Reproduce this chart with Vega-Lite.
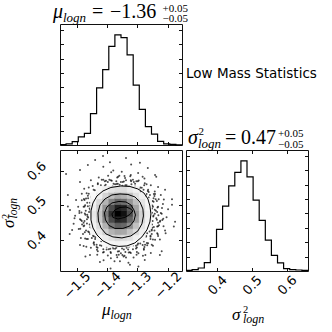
{
"$schema":"https://vega.github.io/schema/vega-lite/v6.json",
"autosize":{"type":"none"},
"padding":{"left":60,"top":24,"right":272,"bottom":308},
"background":"white",
"bounds":"flush",
"spacing":5,
"config":{
 "view":{"stroke":"#111","strokeWidth":1},
 "axis":{"domain":false,"grid":false,"tickColor":"#111","tickWidth":1,"tickSize":-3.5,"labelFont":"DejaVu Sans","labelFontSize":13,"labelColor":"black","labelOverlap":false,"labelFlush":false}
},
"datasets":{
 "htop":[{"mu":-1.556,"n":2},{"mu":-1.5359,"n":8},{"mu":-1.5157,"n":23},{"mu":-1.4956,"n":56},{"mu":-1.4754,"n":81},{"mu":-1.4553,"n":218},{"mu":-1.4351,"n":397},{"mu":-1.415,"n":523},{"mu":-1.3948,"n":684},{"mu":-1.3747,"n":764},{"mu":-1.3545,"n":746},{"mu":-1.3344,"n":626},{"mu":-1.3142,"n":416},{"mu":-1.2941,"n":248},{"mu":-1.2739,"n":128},{"mu":-1.2538,"n":75},{"mu":-1.2336,"n":25},{"mu":-1.2135,"n":8},{"mu":-1.1933,"n":4},{"mu":-1.1732,"n":1},{"mu":-1.153,"n":1}],
 "hright":[{"s":0.311,"n":5},{"s":0.3285,"n":9},{"s":0.3459,"n":21},{"s":0.3634,"n":58},{"s":0.3808,"n":163},{"s":0.3983,"n":289},{"s":0.4157,"n":451},{"s":0.4332,"n":591},{"s":0.4506,"n":685},{"s":0.4681,"n":764},{"s":0.4855,"n":653},{"s":0.503,"n":492},{"s":0.5204,"n":351},{"s":0.5379,"n":215},{"s":0.5553,"n":109},{"s":0.5728,"n":57},{"s":0.5902,"n":17},{"s":0.6077,"n":10},{"s":0.6251,"n":7},{"s":0.6426,"n":4},{"s":0.66,"n":4}],
 "pts":[
{"m":-1.247,"s":0.471},{"m":-1.220,"s":0.476},{"m":-1.235,"s":0.481},{"m":-1.199,"s":0.489},
{"m":-1.243,"s":0.488},{"m":-1.234,"s":0.494},{"m":-1.216,"s":0.504},{"m":-1.186,"s":0.518},
{"m":-1.257,"s":0.502},{"m":-1.236,"s":0.513},{"m":-1.250,"s":0.513},{"m":-1.223,"s":0.530},
{"m":-1.263,"s":0.517},{"m":-1.242,"s":0.533},{"m":-1.259,"s":0.530},{"m":-1.232,"s":0.553},
{"m":-1.270,"s":0.533},{"m":-1.266,"s":0.542},{"m":-1.256,"s":0.558},{"m":-1.238,"s":0.583},
{"m":-1.290,"s":0.539},{"m":-1.278,"s":0.558},{"m":-1.291,"s":0.552},{"m":-1.277,"s":0.578},
{"m":-1.304,"s":0.549},{"m":-1.296,"s":0.572},{"m":-1.308,"s":0.563},{"m":-1.298,"s":0.594},
{"m":-1.320,"s":0.561},{"m":-1.321,"s":0.570},{"m":-1.322,"s":0.588},{"m":-1.321,"s":0.618},
{"m":-1.340,"s":0.558},{"m":-1.341,"s":0.579},{"m":-1.349,"s":0.568},{"m":-1.352,"s":0.597},
{"m":-1.359,"s":0.560},{"m":-1.364,"s":0.583},{"m":-1.370,"s":0.570},{"m":-1.380,"s":0.601},
{"m":-1.379,"s":0.563},{"m":-1.385,"s":0.571},{"m":-1.397,"s":0.586},{"m":-1.413,"s":0.612},
{"m":-1.395,"s":0.552},{"m":-1.408,"s":0.570},{"m":-1.408,"s":0.557},{"m":-1.428,"s":0.581},
{"m":-1.412,"s":0.546},{"m":-1.431,"s":0.564},{"m":-1.427,"s":0.550},{"m":-1.454,"s":0.573},
{"m":-1.431,"s":0.540},{"m":-1.441,"s":0.544},{"m":-1.461,"s":0.552},{"m":-1.490,"s":0.568},
{"m":-1.439,"s":0.524},{"m":-1.461,"s":0.534},{"m":-1.453,"s":0.523},{"m":-1.484,"s":0.534},
{"m":-1.450,"s":0.511},{"m":-1.477,"s":0.519},{"m":-1.466,"s":0.508},{"m":-1.503,"s":0.516},
{"m":-1.464,"s":0.498},{"m":-1.475,"s":0.497},{"m":-1.496,"s":0.496},{"m":-1.530,"s":0.497},
{"m":-1.460,"s":0.481},{"m":-1.485,"s":0.480},{"m":-1.472,"s":0.473},{"m":-1.506,"s":0.470},
{"m":-1.463,"s":0.465},{"m":-1.490,"s":0.460},{"m":-1.475,"s":0.455},{"m":-1.511,"s":0.447},
{"m":-1.467,"s":0.448},{"m":-1.476,"s":0.442},{"m":-1.494,"s":0.432},{"m":-1.524,"s":0.418},
{"m":-1.453,"s":0.434},{"m":-1.474,"s":0.423},{"m":-1.460,"s":0.423},{"m":-1.487,"s":0.406},
{"m":-1.447,"s":0.419},{"m":-1.468,"s":0.403},{"m":-1.451,"s":0.406},{"m":-1.478,"s":0.383},
{"m":-1.440,"s":0.403},{"m":-1.444,"s":0.394},{"m":-1.454,"s":0.378},{"m":-1.472,"s":0.353},
{"m":-1.420,"s":0.397},{"m":-1.432,"s":0.378},{"m":-1.419,"s":0.384},{"m":-1.433,"s":0.358},
{"m":-1.406,"s":0.387},{"m":-1.414,"s":0.364},{"m":-1.402,"s":0.373},{"m":-1.412,"s":0.342},
{"m":-1.390,"s":0.375},{"m":-1.389,"s":0.366},{"m":-1.388,"s":0.348},{"m":-1.389,"s":0.318},
{"m":-1.370,"s":0.378},{"m":-1.369,"s":0.357},{"m":-1.361,"s":0.368},{"m":-1.358,"s":0.339},
{"m":-1.351,"s":0.376},{"m":-1.346,"s":0.353},{"m":-1.340,"s":0.366},{"m":-1.330,"s":0.335},
{"m":-1.331,"s":0.373},{"m":-1.325,"s":0.365},{"m":-1.313,"s":0.350},{"m":-1.297,"s":0.324},
{"m":-1.315,"s":0.384},{"m":-1.302,"s":0.366},{"m":-1.302,"s":0.379},{"m":-1.282,"s":0.355},
{"m":-1.298,"s":0.390},{"m":-1.279,"s":0.372},{"m":-1.283,"s":0.386},{"m":-1.256,"s":0.363},
{"m":-1.279,"s":0.396},{"m":-1.269,"s":0.392},{"m":-1.249,"s":0.384},{"m":-1.220,"s":0.368},
{"m":-1.271,"s":0.412},{"m":-1.249,"s":0.402},{"m":-1.257,"s":0.413},{"m":-1.226,"s":0.402},
{"m":-1.260,"s":0.425},{"m":-1.233,"s":0.417},{"m":-1.244,"s":0.428},{"m":-1.207,"s":0.420},
{"m":-1.246,"s":0.438},{"m":-1.235,"s":0.439},{"m":-1.214,"s":0.440},{"m":-1.180,"s":0.439},
{"m":-1.250,"s":0.455},{"m":-1.225,"s":0.456},{"m":-1.238,"s":0.463},{"m":-1.204,"s":0.466},
{"m":-1.243,"s":0.476},{"m":-1.232,"s":0.496},{"m":-1.230,"s":0.518},{"m":-1.263,"s":0.523},
{"m":-1.265,"s":0.545},{"m":-1.276,"s":0.564},{"m":-1.308,"s":0.555},{"m":-1.322,"s":0.573},
{"m":-1.343,"s":0.585},{"m":-1.365,"s":0.563},{"m":-1.388,"s":0.573},{"m":-1.413,"s":0.574},
{"m":-1.419,"s":0.546},{"m":-1.445,"s":0.545},{"m":-1.468,"s":0.535},{"m":-1.457,"s":0.508},
{"m":-1.478,"s":0.496},{"m":-1.492,"s":0.478},{"m":-1.467,"s":0.460},{"m":-1.478,"s":0.440},
{"m":-1.480,"s":0.418},{"m":-1.447,"s":0.413},{"m":-1.445,"s":0.391},{"m":-1.434,"s":0.372},
{"m":-1.402,"s":0.381},{"m":-1.388,"s":0.363},{"m":-1.367,"s":0.351},{"m":-1.345,"s":0.373},
{"m":-1.322,"s":0.363},{"m":-1.297,"s":0.362},{"m":-1.291,"s":0.390},{"m":-1.265,"s":0.391},
{"m":-1.242,"s":0.401},{"m":-1.253,"s":0.428},{"m":-1.232,"s":0.440},{"m":-1.218,"s":0.458},
{"m":-1.248,"s":0.468},{"m":-1.239,"s":0.485},{"m":-1.251,"s":0.500},{"m":-1.247,"s":0.521},
{"m":-1.273,"s":0.527},{"m":-1.280,"s":0.545},{"m":-1.300,"s":0.549},{"m":-1.312,"s":0.568},
{"m":-1.336,"s":0.558},{"m":-1.355,"s":0.568},{"m":-1.374,"s":0.561},{"m":-1.398,"s":0.568},
{"m":-1.409,"s":0.547},{"m":-1.430,"s":0.545},{"m":-1.439,"s":0.528},{"m":-1.463,"s":0.521},
{"m":-1.456,"s":0.499},{"m":-1.471,"s":0.485},{"m":-1.465,"s":0.468},{"m":-1.478,"s":0.450},
{"m":-1.456,"s":0.437},{"m":-1.457,"s":0.418},{"m":-1.439,"s":0.408},{"m":-1.435,"s":0.387},
{"m":-1.409,"s":0.389},{"m":-1.395,"s":0.374},{"m":-1.374,"s":0.375},{"m":-1.355,"s":0.362},
{"m":-1.336,"s":0.378},{"m":-1.315,"s":0.374},{"m":-1.300,"s":0.387},{"m":-1.275,"s":0.387},
{"m":-1.273,"s":0.409},{"m":-1.253,"s":0.418},{"m":-1.251,"s":0.436},{"m":-1.232,"s":0.450},
{"m":-1.223,"s":0.478},{"m":-1.252,"s":0.491},{"m":-1.247,"s":0.511},{"m":-1.246,"s":0.533},
{"m":-1.280,"s":0.532},{"m":-1.286,"s":0.551},{"m":-1.299,"s":0.570},{"m":-1.328,"s":0.555},
{"m":-1.345,"s":0.569},{"m":-1.367,"s":0.581},{"m":-1.382,"s":0.555},{"m":-1.405,"s":0.560},
{"m":-1.431,"s":0.561},{"m":-1.430,"s":0.532},{"m":-1.453,"s":0.526},{"m":-1.475,"s":0.516},
{"m":-1.458,"s":0.491},{"m":-1.474,"s":0.477},{"m":-1.487,"s":0.458},{"m":-1.458,"s":0.445},
{"m":-1.463,"s":0.425},{"m":-1.464,"s":0.403},{"m":-1.430,"s":0.404},{"m":-1.424,"s":0.385},
{"m":-1.411,"s":0.366},{"m":-1.382,"s":0.381},{"m":-1.365,"s":0.367},{"m":-1.343,"s":0.355},
{"m":-1.328,"s":0.381},{"m":-1.305,"s":0.376},{"m":-1.279,"s":0.375},{"m":-1.280,"s":0.404},
{"m":-1.257,"s":0.410},{"m":-1.235,"s":0.420},{"m":-1.252,"s":0.445},{"m":-1.236,"s":0.459},
{"m":-1.252,"s":0.479},{"m":-1.249,"s":0.496},{"m":-1.240,"s":0.518},{"m":-1.243,"s":0.540},
{"m":-1.284,"s":0.533},{"m":-1.294,"s":0.548},{"m":-1.304,"s":0.570},{"m":-1.324,"s":0.584},
{"m":-1.350,"s":0.557},{"m":-1.369,"s":0.562},{"m":-1.393,"s":0.574},{"m":-1.418,"s":0.574},
{"m":-1.418,"s":0.539},{"m":-1.436,"s":0.533},{"m":-1.464,"s":0.528},{"m":-1.484,"s":0.515},
{"m":-1.456,"s":0.488},{"m":-1.466,"s":0.473},{"m":-1.484,"s":0.455},{"m":-1.489,"s":0.433},
{"m":-1.448,"s":0.428},{"m":-1.444,"s":0.411},{"m":-1.443,"s":0.387},{"m":-1.431,"s":0.368},
{"m":-1.396,"s":0.386},{"m":-1.380,"s":0.376},{"m":-1.362,"s":0.358},{"m":-1.338,"s":0.350},
{"m":-1.325,"s":0.383},{"m":-1.305,"s":0.384},{"m":-1.277,"s":0.380},{"m":-1.253,"s":0.387},
{"m":-1.268,"s":0.420},{"m":-1.253,"s":0.431},{"m":-1.229,"s":0.443},{"m":-1.215,"s":0.462},
{"m":-1.231,"s":0.472},{"m":-1.219,"s":0.493},{"m":-1.213,"s":0.517},{"m":-1.244,"s":0.527},
{"m":-1.263,"s":0.539},{"m":-1.270,"s":0.561},{"m":-1.283,"s":0.583},{"m":-1.315,"s":0.574},
{"m":-1.338,"s":0.573},{"m":-1.360,"s":0.586},{"m":-1.387,"s":0.596},{"m":-1.404,"s":0.571},
{"m":-1.421,"s":0.558},{"m":-1.448,"s":0.556},{"m":-1.476,"s":0.548},{"m":-1.470,"s":0.520},
{"m":-1.473,"s":0.501},{"m":-1.492,"s":0.484},{"m":-1.508,"s":0.463},{"m":-1.483,"s":0.445},
{"m":-1.470,"s":0.428},{"m":-1.473,"s":0.405},{"m":-1.469,"s":0.381},{"m":-1.435,"s":0.380},
{"m":-1.413,"s":0.374},{"m":-1.398,"s":0.356},{"m":-1.376,"s":0.339},{"m":-1.350,"s":0.357},
{"m":-1.329,"s":0.364},{"m":-1.303,"s":0.358},{"m":-1.274,"s":0.357},{"m":-1.268,"s":0.385},
{"m":-1.257,"s":0.403},{"m":-1.232,"s":0.412},{"m":-1.209,"s":0.428},{"m":-1.226,"s":0.453},
{"m":-1.536,"s":0.591},{"m":-1.440,"s":0.631},{"m":-1.414,"s":0.643},{"m":-1.391,"s":0.625},
{"m":-1.338,"s":0.637},{"m":-1.292,"s":0.623},{"m":-1.266,"s":0.608},{"m":-1.242,"s":0.588},
{"m":-1.209,"s":0.545},{"m":-1.186,"s":0.502},{"m":-1.176,"s":0.453},{"m":-1.226,"s":0.357},
{"m":-1.424,"s":0.337},{"m":-1.457,"s":0.357},{"m":-1.325,"s":0.329},{"m":-1.276,"s":0.343},
{"m":-1.523,"s":0.487},{"m":-1.516,"s":0.429},{"m":-1.530,"s":0.530},{"m":-1.490,"s":0.386},
{"m":-1.490,"s":0.602},{"m":-1.464,"s":0.617}
 ],
 "cells":[
{"m":-1.4553,"m2":-1.4351,"s":0.4157,"s2":0.4332,"d":0.12},{"m":-1.4553,"m2":-1.4351,"s":0.4332,"s2":0.4506,"d":0.17},{"m":-1.4553,"m2":-1.4351,"s":0.4506,"s2":0.4681,"d":0.2},{"m":-1.4553,"m2":-1.4351,"s":0.4681,"s2":0.4855,"d":0.23},{"m":-1.4553,"m2":-1.4351,"s":0.4855,"s2":0.503,"d":0.19},{"m":-1.4553,"m2":-1.4351,"s":0.503,"s2":0.5204,"d":0.16},{"m":-1.4553,"m2":-1.4351,"s":0.5204,"s2":0.5379,"d":0.11},
{"m":-1.4351,"m2":-1.415,"s":0.3983,"s2":0.4157,"d":0.13},{"m":-1.4351,"m2":-1.415,"s":0.4157,"s2":0.4332,"d":0.22},{"m":-1.4351,"m2":-1.415,"s":0.4332,"s2":0.4506,"d":0.29},{"m":-1.4351,"m2":-1.415,"s":0.4506,"s2":0.4681,"d":0.39},{"m":-1.4351,"m2":-1.415,"s":0.4681,"s2":0.4855,"d":0.4},{"m":-1.4351,"m2":-1.415,"s":0.4855,"s2":0.503,"d":0.37},{"m":-1.4351,"m2":-1.415,"s":0.503,"s2":0.5204,"d":0.31},{"m":-1.4351,"m2":-1.415,"s":0.5204,"s2":0.5379,"d":0.19},{"m":-1.4351,"m2":-1.415,"s":0.5379,"s2":0.5553,"d":0.12},
{"m":-1.415,"m2":-1.3948,"s":0.3808,"s2":0.3983,"d":0.1},{"m":-1.415,"m2":-1.3948,"s":0.3983,"s2":0.4157,"d":0.2},{"m":-1.415,"m2":-1.3948,"s":0.4157,"s2":0.4332,"d":0.35},{"m":-1.415,"m2":-1.3948,"s":0.4332,"s2":0.4506,"d":0.47},{"m":-1.415,"m2":-1.3948,"s":0.4506,"s2":0.4681,"d":0.61},{"m":-1.415,"m2":-1.3948,"s":0.4681,"s2":0.4855,"d":0.66},{"m":-1.415,"m2":-1.3948,"s":0.4855,"s2":0.503,"d":0.58},{"m":-1.415,"m2":-1.3948,"s":0.503,"s2":0.5204,"d":0.46},{"m":-1.415,"m2":-1.3948,"s":0.5204,"s2":0.5379,"d":0.33},{"m":-1.415,"m2":-1.3948,"s":0.5379,"s2":0.5553,"d":0.18},
{"m":-1.3948,"m2":-1.3747,"s":0.3808,"s2":0.3983,"d":0.14},{"m":-1.3948,"m2":-1.3747,"s":0.3983,"s2":0.4157,"d":0.26},{"m":-1.3948,"m2":-1.3747,"s":0.4157,"s2":0.4332,"d":0.46},{"m":-1.3948,"m2":-1.3747,"s":0.4332,"s2":0.4506,"d":0.66},{"m":-1.3948,"m2":-1.3747,"s":0.4506,"s2":0.4681,"d":0.8},{"m":-1.3948,"m2":-1.3747,"s":0.4681,"s2":0.4855,"d":0.88},{"m":-1.3948,"m2":-1.3747,"s":0.4855,"s2":0.503,"d":0.8},{"m":-1.3948,"m2":-1.3747,"s":0.503,"s2":0.5204,"d":0.62},{"m":-1.3948,"m2":-1.3747,"s":0.5204,"s2":0.5379,"d":0.42},{"m":-1.3948,"m2":-1.3747,"s":0.5379,"s2":0.5553,"d":0.25},
{"m":-1.3747,"m2":-1.3545,"s":0.3808,"s2":0.3983,"d":0.16},{"m":-1.3747,"m2":-1.3545,"s":0.3983,"s2":0.4157,"d":0.32},{"m":-1.3747,"m2":-1.3545,"s":0.4157,"s2":0.4332,"d":0.51},{"m":-1.3747,"m2":-1.3545,"s":0.4332,"s2":0.4506,"d":0.73},{"m":-1.3747,"m2":-1.3545,"s":0.4506,"s2":0.4681,"d":0.91},{"m":-1.3747,"m2":-1.3545,"s":0.4681,"s2":0.4855,"d":1.0},{"m":-1.3747,"m2":-1.3545,"s":0.4855,"s2":0.503,"d":0.93},{"m":-1.3747,"m2":-1.3545,"s":0.503,"s2":0.5204,"d":0.72},{"m":-1.3747,"m2":-1.3545,"s":0.5204,"s2":0.5379,"d":0.5},{"m":-1.3747,"m2":-1.3545,"s":0.5379,"s2":0.5553,"d":0.28},
{"m":-1.3545,"m2":-1.3344,"s":0.3808,"s2":0.3983,"d":0.15},{"m":-1.3545,"m2":-1.3344,"s":0.3983,"s2":0.4157,"d":0.29},{"m":-1.3545,"m2":-1.3344,"s":0.4157,"s2":0.4332,"d":0.5},{"m":-1.3545,"m2":-1.3344,"s":0.4332,"s2":0.4506,"d":0.71},{"m":-1.3545,"m2":-1.3344,"s":0.4506,"s2":0.4681,"d":0.89},{"m":-1.3545,"m2":-1.3344,"s":0.4681,"s2":0.4855,"d":0.97},{"m":-1.3545,"m2":-1.3344,"s":0.4855,"s2":0.503,"d":0.9},{"m":-1.3545,"m2":-1.3344,"s":0.503,"s2":0.5204,"d":0.69},{"m":-1.3545,"m2":-1.3344,"s":0.5204,"s2":0.5379,"d":0.47},{"m":-1.3545,"m2":-1.3344,"s":0.5379,"s2":0.5553,"d":0.29},
{"m":-1.3344,"m2":-1.3142,"s":0.3808,"s2":0.3983,"d":0.12},{"m":-1.3344,"m2":-1.3142,"s":0.3983,"s2":0.4157,"d":0.26},{"m":-1.3344,"m2":-1.3142,"s":0.4157,"s2":0.4332,"d":0.4},{"m":-1.3344,"m2":-1.3142,"s":0.4332,"s2":0.4506,"d":0.6},{"m":-1.3344,"m2":-1.3142,"s":0.4506,"s2":0.4681,"d":0.73},{"m":-1.3344,"m2":-1.3142,"s":0.4681,"s2":0.4855,"d":0.8},{"m":-1.3344,"m2":-1.3142,"s":0.4855,"s2":0.503,"d":0.76},{"m":-1.3344,"m2":-1.3142,"s":0.503,"s2":0.5204,"d":0.57},{"m":-1.3344,"m2":-1.3142,"s":0.5204,"s2":0.5379,"d":0.41},{"m":-1.3344,"m2":-1.3142,"s":0.5379,"s2":0.5553,"d":0.22},
{"m":-1.3142,"m2":-1.2941,"s":0.3983,"s2":0.4157,"d":0.17},{"m":-1.3142,"m2":-1.2941,"s":0.4157,"s2":0.4332,"d":0.3},{"m":-1.3142,"m2":-1.2941,"s":0.4332,"s2":0.4506,"d":0.41},{"m":-1.3142,"m2":-1.2941,"s":0.4506,"s2":0.4681,"d":0.53},{"m":-1.3142,"m2":-1.2941,"s":0.4681,"s2":0.4855,"d":0.57},{"m":-1.3142,"m2":-1.2941,"s":0.4855,"s2":0.503,"d":0.52},{"m":-1.3142,"m2":-1.2941,"s":0.503,"s2":0.5204,"d":0.42},{"m":-1.3142,"m2":-1.2941,"s":0.5204,"s2":0.5379,"d":0.27},{"m":-1.3142,"m2":-1.2941,"s":0.5379,"s2":0.5553,"d":0.16},
{"m":-1.2941,"m2":-1.2739,"s":0.3983,"s2":0.4157,"d":0.11},{"m":-1.2941,"m2":-1.2739,"s":0.4157,"s2":0.4332,"d":0.18},{"m":-1.2941,"m2":-1.2739,"s":0.4332,"s2":0.4506,"d":0.24},{"m":-1.2941,"m2":-1.2739,"s":0.4506,"s2":0.4681,"d":0.32},{"m":-1.2941,"m2":-1.2739,"s":0.4681,"s2":0.4855,"d":0.34},{"m":-1.2941,"m2":-1.2739,"s":0.4855,"s2":0.503,"d":0.3},{"m":-1.2941,"m2":-1.2739,"s":0.503,"s2":0.5204,"d":0.25},{"m":-1.2941,"m2":-1.2739,"s":0.5204,"s2":0.5379,"d":0.17},
{"m":-1.2739,"m2":-1.2538,"s":0.4332,"s2":0.4506,"d":0.13},{"m":-1.2739,"m2":-1.2538,"s":0.4506,"s2":0.4681,"d":0.16},{"m":-1.2739,"m2":-1.2538,"s":0.4681,"s2":0.4855,"d":0.18},{"m":-1.2739,"m2":-1.2538,"s":0.4855,"s2":0.503,"d":0.15},{"m":-1.2739,"m2":-1.2538,"s":0.503,"s2":0.5204,"d":0.13}
 ],
 "cont":[
{"lvl":1,"o":0,"m":-1.3547,"s":0.5563},{"lvl":1,"o":1,"m":-1.325,"s":0.5548},{"lvl":1,"o":2,"m":-1.2986,"s":0.5476},{"lvl":1,"o":3,"m":-1.2788,"s":0.5361},{"lvl":1,"o":4,"m":-1.2656,"s":0.5188},{"lvl":1,"o":5,"m":-1.259,"s":0.4986},{"lvl":1,"o":6,"m":-1.2557,"s":0.4756},{"lvl":1,"o":7,"m":-1.259,"s":0.4525},{"lvl":1,"o":8,"m":-1.2689,"s":0.4295},{"lvl":1,"o":9,"m":-1.2854,"s":0.4093},{"lvl":1,"o":10,"m":-1.3085,"s":0.392},{"lvl":1,"o":11,"m":-1.3349,"s":0.3833},{"lvl":1,"o":12,"m":-1.3613,"s":0.3819},{"lvl":1,"o":13,"m":-1.3877,"s":0.3862},{"lvl":1,"o":14,"m":-1.4141,"s":0.3978},{"lvl":1,"o":15,"m":-1.4339,"s":0.415},{"lvl":1,"o":16,"m":-1.4471,"s":0.4352},{"lvl":1,"o":17,"m":-1.4537,"s":0.4583},{"lvl":1,"o":18,"m":-1.4537,"s":0.4842},{"lvl":1,"o":19,"m":-1.4471,"s":0.5073},{"lvl":1,"o":20,"m":-1.4339,"s":0.5274},{"lvl":1,"o":21,"m":-1.4141,"s":0.5418},{"lvl":1,"o":22,"m":-1.3877,"s":0.5519},{"lvl":1,"o":23,"m":-1.3547,"s":0.5563},
{"lvl":2,"o":0,"m":-1.358,"s":0.5332},{"lvl":2,"o":1,"m":-1.3316,"s":0.5318},{"lvl":2,"o":2,"m":-1.3085,"s":0.5246},{"lvl":2,"o":3,"m":-1.292,"s":0.5101},{"lvl":2,"o":4,"m":-1.2821,"s":0.49},{"lvl":2,"o":5,"m":-1.2804,"s":0.4698},{"lvl":2,"o":6,"m":-1.2854,"s":0.4467},{"lvl":2,"o":7,"m":-1.2986,"s":0.4266},{"lvl":2,"o":8,"m":-1.3217,"s":0.4122},{"lvl":2,"o":9,"m":-1.3514,"s":0.4064},{"lvl":2,"o":10,"m":-1.3811,"s":0.4093},{"lvl":2,"o":11,"m":-1.4042,"s":0.4179},{"lvl":2,"o":12,"m":-1.4207,"s":0.4352},{"lvl":2,"o":13,"m":-1.4289,"s":0.4554},{"lvl":2,"o":14,"m":-1.4306,"s":0.4784},{"lvl":2,"o":15,"m":-1.424,"s":0.5015},{"lvl":2,"o":16,"m":-1.4075,"s":0.5188},{"lvl":2,"o":17,"m":-1.3844,"s":0.5303},{"lvl":2,"o":18,"m":-1.358,"s":0.5332},
{"lvl":3,"o":0,"m":-1.3613,"s":0.5116},{"lvl":3,"o":1,"m":-1.3382,"s":0.5101},{"lvl":3,"o":2,"m":-1.3217,"s":0.5015},{"lvl":3,"o":3,"m":-1.3118,"s":0.4871},{"lvl":3,"o":4,"m":-1.3068,"s":0.4727},{"lvl":3,"o":5,"m":-1.3118,"s":0.4554},{"lvl":3,"o":6,"m":-1.325,"s":0.441},{"lvl":3,"o":7,"m":-1.3481,"s":0.4338},{"lvl":3,"o":8,"m":-1.3745,"s":0.4338},{"lvl":3,"o":9,"m":-1.3943,"s":0.4424},{"lvl":3,"o":10,"m":-1.4058,"s":0.4583},{"lvl":3,"o":11,"m":-1.4091,"s":0.4784},{"lvl":3,"o":12,"m":-1.4009,"s":0.4957},{"lvl":3,"o":13,"m":-1.3844,"s":0.5073},{"lvl":3,"o":14,"m":-1.3613,"s":0.5116},
{"lvl":4,"o":0,"m":-1.3844,"s":0.4756},{"lvl":4,"o":1,"m":-1.3745,"s":0.4871},{"lvl":4,"o":2,"m":-1.358,"s":0.4943},{"lvl":4,"o":3,"m":-1.3382,"s":0.4957},{"lvl":4,"o":4,"m":-1.325,"s":0.4914},{"lvl":4,"o":5,"m":-1.3151,"s":0.4842},{"lvl":4,"o":6,"m":-1.325,"s":0.4741},{"lvl":4,"o":7,"m":-1.3415,"s":0.4655},{"lvl":4,"o":8,"m":-1.3646,"s":0.4612},{"lvl":4,"o":9,"m":-1.3811,"s":0.4655},{"lvl":4,"o":10,"m":-1.3844,"s":0.4756}
 ]
},
"vconcat":[
 {"width":122,"height":121,
  "layer":[
   {"data":{"name":"htop"},"mark":{"type":"line","interpolate":"step-after","color":"black","strokeWidth":1.2},
    "encoding":{"x":{"field":"mu","type":"quantitative","scale":{"domain":[-1.556,-1.153],"nice":false,"zero":false},"axis":{"orient":"bottom","values":[-1.5,-1.4,-1.3,-1.2],"labels":false,"title":null}},
                "y":{"field":"n","type":"quantitative","scale":{"domain":[0,840],"nice":false,"zero":false},"axis":{"orient":"left","values":[100,200,300,400,500,600,700,800],"labels":false,"title":null}}}},
   {"data":{"name":"htop"},"mark":{"type":"line","strokeOpacity":0},
    "encoding":{"x":{"field":"mu","type":"quantitative","scale":{"domain":[-1.556,-1.153],"nice":false,"zero":false},"axis":{"orient":"top","values":[-1.5,-1.4,-1.3,-1.2],"labels":false,"title":null}},
                "y":{"field":"n","type":"quantitative","scale":{"domain":[0,840],"nice":false,"zero":false},"axis":{"orient":"right","values":[100,200,300,400,500,600,700,800],"labels":false,"title":null}}}},
   {"data":{"values":[{}]},"mark":{"type":"text","text":"μ","font":"Liberation Serif","fontStyle":"italic","fontSize":20,"align":"left","baseline":"alphabetic","dx":-7,"dy":-6,"color":"black"},
    "encoding":{"x":{"datum":-1.556,"type":"quantitative","scale":{"domain":[-1.556,-1.153],"nice":false,"zero":false},"axis":null},"y":{"datum":840,"type":"quantitative","scale":{"domain":[0,840],"nice":false,"zero":false},"axis":null}}},
   {"data":{"values":[{}]},"mark":{"type":"text","text":"logn","font":"Liberation Serif","fontStyle":"italic","fontSize":13,"align":"left","baseline":"alphabetic","dx":3,"dy":-2,"color":"black"},
    "encoding":{"x":{"datum":-1.556,"type":"quantitative","scale":{"domain":[-1.556,-1.153],"nice":false,"zero":false},"axis":null},"y":{"datum":840,"type":"quantitative","scale":{"domain":[0,840],"nice":false,"zero":false},"axis":null}}},
   {"data":{"values":[{}]},"mark":{"type":"text","text":"=","font":"Liberation Serif","fontSize":20,"align":"left","baseline":"alphabetic","dx":32,"dy":-6,"color":"black"},
    "encoding":{"x":{"datum":-1.556,"type":"quantitative","scale":{"domain":[-1.556,-1.153],"nice":false,"zero":false},"axis":null},"y":{"datum":840,"type":"quantitative","scale":{"domain":[0,840],"nice":false,"zero":false},"axis":null}}},
   {"data":{"values":[{}]},"mark":{"type":"text","text":"−1.36","font":"Liberation Serif","fontSize":20,"align":"left","baseline":"alphabetic","dx":50,"dy":-6,"color":"black"},
    "encoding":{"x":{"datum":-1.556,"type":"quantitative","scale":{"domain":[-1.556,-1.153],"nice":false,"zero":false},"axis":null},"y":{"datum":840,"type":"quantitative","scale":{"domain":[0,840],"nice":false,"zero":false},"axis":null}}},
   {"data":{"values":[{}]},"mark":{"type":"text","text":"+0.05","font":"Liberation Serif","fontSize":11,"align":"left","baseline":"alphabetic","dx":102.5,"dy":-12.5,"color":"black"},
    "encoding":{"x":{"datum":-1.556,"type":"quantitative","scale":{"domain":[-1.556,-1.153],"nice":false,"zero":false},"axis":null},"y":{"datum":840,"type":"quantitative","scale":{"domain":[0,840],"nice":false,"zero":false},"axis":null}}},
   {"data":{"values":[{}]},"mark":{"type":"text","text":"−0.05","font":"Liberation Serif","fontSize":11,"align":"left","baseline":"alphabetic","dx":102.5,"dy":-2,"color":"black"},
    "encoding":{"x":{"datum":-1.556,"type":"quantitative","scale":{"domain":[-1.556,-1.153],"nice":false,"zero":false},"axis":null},"y":{"datum":840,"type":"quantitative","scale":{"domain":[0,840],"nice":false,"zero":false},"axis":null}}},
   {"data":{"values":[{}]},"mark":{"type":"text","text":"Low Mass Statistics","font":"DejaVu Sans","fontSize":13.5,"align":"left","baseline":"alphabetic","dx":4,"dy":54,"color":"black"},
    "encoding":{"x":{"datum":-1.153,"type":"quantitative","scale":{"domain":[-1.556,-1.153],"nice":false,"zero":false},"axis":null},"y":{"datum":840,"type":"quantitative","scale":{"domain":[0,840],"nice":false,"zero":false},"axis":null}}}
  ],
  "resolve":{"axis":{"x":"independent","y":"independent"}}
 },
 {"hconcat":[
  {"width":122,"height":121,
   "layer":[
    {"data":{"name":"pts"},"mark":{"type":"point","filled":true,"shape":"circle","size":4,"color":"black","opacity":0.7},
     "encoding":{"x":{"field":"m","type":"quantitative","scale":{"domain":[-1.556,-1.153],"nice":false,"zero":false},"axis":{"orient":"bottom","values":[-1.5,-1.4,-1.3,-1.2],"format":".1f","labelAngle":-45,"labelAlign":"center","labelBaseline":"middle","labelPadding":17.5,"title":null}},
                 "y":{"field":"s","type":"quantitative","scale":{"domain":[0.311,0.66],"nice":false,"zero":false},"axis":{"orient":"left","values":[0.4,0.5,0.6],"format":".1f","labelAngle":-45,"labelAlign":"center","labelBaseline":"middle","labelPadding":27,"title":null}}}},
    {"data":{"name":"cells"},"mark":{"type":"rect","strokeWidth":0.6},
     "encoding":{"x":{"field":"m","type":"quantitative","scale":{"domain":[-1.556,-1.153],"nice":false,"zero":false},"axis":null},"x2":{"field":"m2"},
                 "y":{"field":"s","type":"quantitative","scale":{"domain":[0.311,0.66],"nice":false,"zero":false},"axis":null},"y2":{"field":"s2"},
                 "color":{"field":"d","type":"quantitative","scale":{"type":"pow","exponent":1.7,"domain":[0,1],"range":["#ffffff","#000000"]},"legend":null},
                 "stroke":{"field":"d","type":"quantitative","scale":{"type":"pow","exponent":1.7,"domain":[0,1],"range":["#ffffff","#000000"]},"legend":null}}},
    {"data":{"name":"cont"},"mark":{"type":"line","color":"black","strokeWidth":1},
     "encoding":{"x":{"field":"m","type":"quantitative","scale":{"domain":[-1.556,-1.153],"nice":false,"zero":false},"axis":null},
                 "y":{"field":"s","type":"quantitative","scale":{"domain":[0.311,0.66],"nice":false,"zero":false},"axis":null},
                 "detail":{"field":"lvl","type":"nominal"},"order":{"field":"o","type":"quantitative"}}},
    {"data":{"name":"cont"},"mark":{"type":"point","opacity":0},
     "encoding":{"x":{"field":"m","type":"quantitative","scale":{"domain":[-1.556,-1.153],"nice":false,"zero":false},"axis":{"orient":"top","values":[-1.5,-1.4,-1.3,-1.2],"labels":false,"title":null}},
                 "y":{"field":"s","type":"quantitative","scale":{"domain":[0.311,0.66],"nice":false,"zero":false},"axis":{"orient":"right","values":[0.4,0.5,0.6],"labels":false,"title":null}}}},
    {"data":{"values":[{}]},"mark":{"type":"text","text":"μ","font":"Liberation Serif","fontStyle":"italic","fontSize":17,"align":"left","baseline":"alphabetic","dx":42,"dy":44,"color":"black"},
     "encoding":{"x":{"datum":-1.556,"type":"quantitative","scale":{"domain":[-1.556,-1.153],"nice":false,"zero":false},"axis":null},"y":{"datum":0.311,"type":"quantitative","scale":{"domain":[0.311,0.66],"nice":false,"zero":false},"axis":null}}},
    {"data":{"values":[{}]},"mark":{"type":"text","text":"logn","font":"Liberation Serif","fontStyle":"italic","fontSize":12,"align":"left","baseline":"alphabetic","dx":50.5,"dy":47.5,"color":"black"},
     "encoding":{"x":{"datum":-1.556,"type":"quantitative","scale":{"domain":[-1.556,-1.153],"nice":false,"zero":false},"axis":null},"y":{"datum":0.311,"type":"quantitative","scale":{"domain":[0.311,0.66],"nice":false,"zero":false},"axis":null}}},
    {"data":{"values":[{}]},"mark":{"type":"text","text":"σ","font":"Liberation Serif","fontStyle":"italic","fontSize":17,"align":"left","baseline":"alphabetic","angle":270,"dx":43,"dy":-46.5,"color":"black"},
     "encoding":{"x":{"datum":-1.556,"type":"quantitative","scale":{"domain":[-1.556,-1.153],"nice":false,"zero":false},"axis":null},"y":{"datum":0.311,"type":"quantitative","scale":{"domain":[0.311,0.66],"nice":false,"zero":false},"axis":null}}},
    {"data":{"values":[{}]},"mark":{"type":"text","text":"2","font":"Liberation Serif","fontSize":10.5,"align":"left","baseline":"alphabetic","angle":270,"dx":52,"dy":-51,"color":"black"},
     "encoding":{"x":{"datum":-1.556,"type":"quantitative","scale":{"domain":[-1.556,-1.153],"nice":false,"zero":false},"axis":null},"y":{"datum":0.311,"type":"quantitative","scale":{"domain":[0.311,0.66],"nice":false,"zero":false},"axis":null}}},
    {"data":{"values":[{}]},"mark":{"type":"text","text":"logn","font":"Liberation Serif","fontStyle":"italic","fontSize":11.5,"align":"left","baseline":"alphabetic","angle":270,"dx":52.5,"dy":-43,"color":"black"},
     "encoding":{"x":{"datum":-1.556,"type":"quantitative","scale":{"domain":[-1.556,-1.153],"nice":false,"zero":false},"axis":null},"y":{"datum":0.311,"type":"quantitative","scale":{"domain":[0.311,0.66],"nice":false,"zero":false},"axis":null}}}
   ],
   "resolve":{"axis":{"x":"independent","y":"independent"}}
  },
  {"width":122,"height":121,
   "layer":[
    {"data":{"name":"hright"},"mark":{"type":"line","interpolate":"step-after","color":"black","strokeWidth":1.2},
     "encoding":{"x":{"field":"s","type":"quantitative","scale":{"domain":[0.311,0.66],"nice":false,"zero":false},"axis":{"orient":"bottom","values":[0.4,0.5,0.6],"format":".1f","labelAngle":-45,"labelAlign":"center","labelBaseline":"middle","labelPadding":17.5,"title":null}},
                 "y":{"field":"n","type":"quantitative","scale":{"domain":[0,840],"nice":false,"zero":false},"axis":{"orient":"left","values":[100,200,300,400,500,600,700,800],"labels":false,"title":null}}}},
    {"data":{"name":"hright"},"mark":{"type":"line","strokeOpacity":0},
     "encoding":{"x":{"field":"s","type":"quantitative","scale":{"domain":[0.311,0.66],"nice":false,"zero":false},"axis":{"orient":"top","values":[0.4,0.5,0.6],"labels":false,"title":null}},
                 "y":{"field":"n","type":"quantitative","scale":{"domain":[0,840],"nice":false,"zero":false},"axis":{"orient":"right","values":[100,200,300,400,500,600,700,800],"labels":false,"title":null}}}},
    {"data":{"values":[{}]},"mark":{"type":"text","text":"σ","font":"Liberation Serif","fontStyle":"italic","fontSize":20,"align":"left","baseline":"alphabetic","dx":2,"dy":-6.5,"color":"black"},
     "encoding":{"x":{"datum":0.311,"type":"quantitative","scale":{"domain":[0.311,0.66],"nice":false,"zero":false},"axis":null},"y":{"datum":840,"type":"quantitative","scale":{"domain":[0,840],"nice":false,"zero":false},"axis":null}}},
    {"data":{"values":[{}]},"mark":{"type":"text","text":"2","font":"Liberation Serif","fontSize":11,"align":"left","baseline":"alphabetic","dx":12.5,"dy":-15,"color":"black"},
     "encoding":{"x":{"datum":0.311,"type":"quantitative","scale":{"domain":[0.311,0.66],"nice":false,"zero":false},"axis":null},"y":{"datum":840,"type":"quantitative","scale":{"domain":[0,840],"nice":false,"zero":false},"axis":null}}},
    {"data":{"values":[{}]},"mark":{"type":"text","text":"logn","font":"Liberation Serif","fontStyle":"italic","fontSize":13,"align":"left","baseline":"alphabetic","dx":12,"dy":-2.5,"color":"black"},
     "encoding":{"x":{"datum":0.311,"type":"quantitative","scale":{"domain":[0.311,0.66],"nice":false,"zero":false},"axis":null},"y":{"datum":840,"type":"quantitative","scale":{"domain":[0,840],"nice":false,"zero":false},"axis":null}}},
    {"data":{"values":[{}]},"mark":{"type":"text","text":"=","font":"Liberation Serif","fontSize":20,"align":"left","baseline":"alphabetic","dx":39,"dy":-6.5,"color":"black"},
     "encoding":{"x":{"datum":0.311,"type":"quantitative","scale":{"domain":[0.311,0.66],"nice":false,"zero":false},"axis":null},"y":{"datum":840,"type":"quantitative","scale":{"domain":[0,840],"nice":false,"zero":false},"axis":null}}},
    {"data":{"values":[{}]},"mark":{"type":"text","text":"0.47","font":"Liberation Serif","fontSize":20,"align":"left","baseline":"alphabetic","dx":55,"dy":-6.5,"color":"black"},
     "encoding":{"x":{"datum":0.311,"type":"quantitative","scale":{"domain":[0.311,0.66],"nice":false,"zero":false},"axis":null},"y":{"datum":840,"type":"quantitative","scale":{"domain":[0,840],"nice":false,"zero":false},"axis":null}}},
    {"data":{"values":[{}]},"mark":{"type":"text","text":"+0.05","font":"Liberation Serif","fontSize":11,"align":"left","baseline":"alphabetic","dx":92,"dy":-13,"color":"black"},
     "encoding":{"x":{"datum":0.311,"type":"quantitative","scale":{"domain":[0.311,0.66],"nice":false,"zero":false},"axis":null},"y":{"datum":840,"type":"quantitative","scale":{"domain":[0,840],"nice":false,"zero":false},"axis":null}}},
    {"data":{"values":[{}]},"mark":{"type":"text","text":"−0.05","font":"Liberation Serif","fontSize":11,"align":"left","baseline":"alphabetic","dx":92,"dy":-2.5,"color":"black"},
     "encoding":{"x":{"datum":0.311,"type":"quantitative","scale":{"domain":[0.311,0.66],"nice":false,"zero":false},"axis":null},"y":{"datum":840,"type":"quantitative","scale":{"domain":[0,840],"nice":false,"zero":false},"axis":null}}},
    {"data":{"values":[{}]},"mark":{"type":"text","text":"σ","font":"Liberation Serif","fontStyle":"italic","fontSize":17,"align":"left","baseline":"alphabetic","dx":46,"dy":49,"color":"black"},
     "encoding":{"x":{"datum":0.311,"type":"quantitative","scale":{"domain":[0.311,0.66],"nice":false,"zero":false},"axis":null},"y":{"datum":0,"type":"quantitative","scale":{"domain":[0,840],"nice":false,"zero":false},"axis":null}}},
    {"data":{"values":[{}]},"mark":{"type":"text","text":"2","font":"Liberation Serif","fontSize":10.5,"align":"left","baseline":"alphabetic","dx":57,"dy":42,"color":"black"},
     "encoding":{"x":{"datum":0.311,"type":"quantitative","scale":{"domain":[0.311,0.66],"nice":false,"zero":false},"axis":null},"y":{"datum":0,"type":"quantitative","scale":{"domain":[0,840],"nice":false,"zero":false},"axis":null}}},
    {"data":{"values":[{}]},"mark":{"type":"text","text":"logn","font":"Liberation Serif","fontStyle":"italic","fontSize":12,"align":"left","baseline":"alphabetic","dx":57,"dy":52,"color":"black"},
     "encoding":{"x":{"datum":0.311,"type":"quantitative","scale":{"domain":[0.311,0.66],"nice":false,"zero":false},"axis":null},"y":{"datum":0,"type":"quantitative","scale":{"domain":[0,840],"nice":false,"zero":false},"axis":null}}}
   ],
   "resolve":{"axis":{"x":"independent","y":"independent"}}
  }
 ],"spacing":4,"bounds":"flush"}
]
}
